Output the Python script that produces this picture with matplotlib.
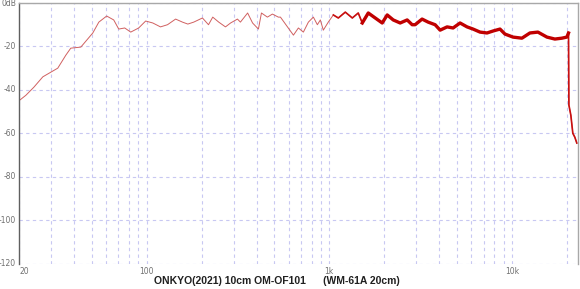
"""
Frequency response: ONKYO(2021) 10cm OM-OF101, measured with WM-61A at 20cm.
"""

import matplotlib
matplotlib.use("Agg")
import matplotlib.pyplot as plt
import numpy as np

# frequency (Hz) and level (dB)
freq_hz = [
    20, 21.8, 24.1, 27.0, 32.6, 36.1, 38.4, 43.6, 50.7, 54.7, 60.4, 66.0,
    70.3, 75.8, 81.8, 90.4, 98.7, 108, 119, 130, 144, 157, 168, 181, 202,
    218, 230, 248, 270, 288, 314, 326, 357, 380, 409, 425, 458, 488, 526,
    540, 590, 636, 677, 721, 768, 818, 860, 893, 927, 987, 1052, 1120, 1223,
    1336, 1440, 1515, 1634, 1784, 1948, 2075, 2238, 2443, 2668, 2842, 2950,
    3220, 3475, 3796, 4043, 4413, 4761, 5197, 5677, 6122, 6687, 7302, 7876,
    8600, 9156, 10130, 11340, 12540, 13870, 15540, 17180, 18760, 19980,
    20400, 20500, 21010, 21540, 22090, 22650,
]
level_db = [
    -45.0, -42.5, -38.8, -34.0, -30.0, -24.0, -20.8, -20.3, -13.8, -8.8,
    -6.0, -7.8, -12.0, -11.5, -13.4, -11.5, -8.3, -9.2, -11.0, -10.0, -7.4,
    -8.8, -9.7, -8.8, -6.9, -10.0, -6.5, -8.8, -11.0, -9.2, -7.4, -8.8,
    -4.6, -9.2, -12.0, -4.6, -6.5, -5.1, -6.5, -6.5, -11.0, -14.8, -11.5,
    -13.4, -8.8, -6.5, -10.0, -7.8, -12.5, -8.8, -5.5, -6.9, -4.2, -6.9,
    -4.6, -9.2, -4.6, -6.9, -9.2, -5.5, -7.8, -9.2, -7.8, -10.0, -10.0,
    -7.4, -8.8, -10.0, -12.5, -11.0, -11.5, -9.2, -11.0, -12.0, -13.4,
    -13.8, -12.9, -12.0, -14.3, -15.7, -16.2, -13.8, -13.4, -15.7, -16.6,
    -16.2, -15.7, -13.8, -47.0, -51.7, -60.0, -61.8, -64.5,
]

x_ticks = [20, 100, 1000, 10000]
x_tick_labels = ["20", "100", "1k", "10k"]
y_ticks = [0, -20, -40, -60, -80, -100, -120]
y_tick_labels = ["0dB", "-20", "-40", "-60", "-80", "-100", "-120"]
title = "ONKYO(2021) 10cm OM-OF101      (WM-61A 20cm)"


def main():
    fig = plt.figure(figsize=(5.8, 2.89), dpi=100)
    ax = fig.add_axes([0.0328, 0.088, 0.9638, 0.9016])

    f = np.array(freq_hz)
    db = np.array(level_db)

    # thin trace everywhere, heavier where the measurement gets noisy
    ax.plot(f, db, color="#d06060", linewidth=0.7)
    mid = f >= 1000
    ax.plot(f[mid], db[mid], color="#c81010", linewidth=1.2)
    hi = (f >= 1500) & (f <= 20400)
    ax.plot(f[hi], db[hi], color="#c00000", linewidth=2.4)

    ax.set_xscale("log")
    grid_style = dict(color="#c8c8f2", linestyle=(0, (3, 3)), linewidth=0.8)
    minor = [m * d for d in (10, 100, 1000, 10000) for m in range(2, 10)
             if m * d not in x_ticks]
    ax.set_xticks(x_ticks)
    ax.set_xticks(minor, minor=True)
    ax.set_xticklabels([])
    ax.set_xticklabels([], minor=True)
    ax.set_yticks(y_ticks)
    ax.set_yticklabels([])
    ax.set_xlim(20, 23000)
    ax.set_ylim(-120, 0)
    ax.grid(True, which="both", axis="x", **grid_style)
    ax.grid(True, which="major", axis="y", **grid_style)
    ax.tick_params(which="both", length=0)
    ax.set_axisbelow(True)

    for xt, lab in zip(x_ticks, x_tick_labels):
        ax.text(xt, -121.5, lab, ha="left" if lab == "20" else "center",
                va="top", fontsize=5.5, color="#707070")
    for yt, lab in zip(y_ticks, y_tick_labels):
        ax.text(-0.005, yt, lab, transform=ax.get_yaxis_transform(),
                ha="right", va="center", fontsize=5.5, color="#707070")

    ax.spines["left"].set_color("#606060")
    ax.spines["left"].set_linewidth(1.0)
    for side in ("top", "right"):
        ax.spines[side].set_color("#a8a8a8")
        ax.spines[side].set_linewidth(1.0)
    ax.spines["bottom"].set_visible(False)

    fig.text(0.4767, 0.012, title, ha="center", va="bottom",
             fontsize=7.5, fontweight="bold", color="#202020",
             family="Liberation Sans")

    fig.savefig("out.png", dpi=100)


if __name__ == "__main__":
    main()
